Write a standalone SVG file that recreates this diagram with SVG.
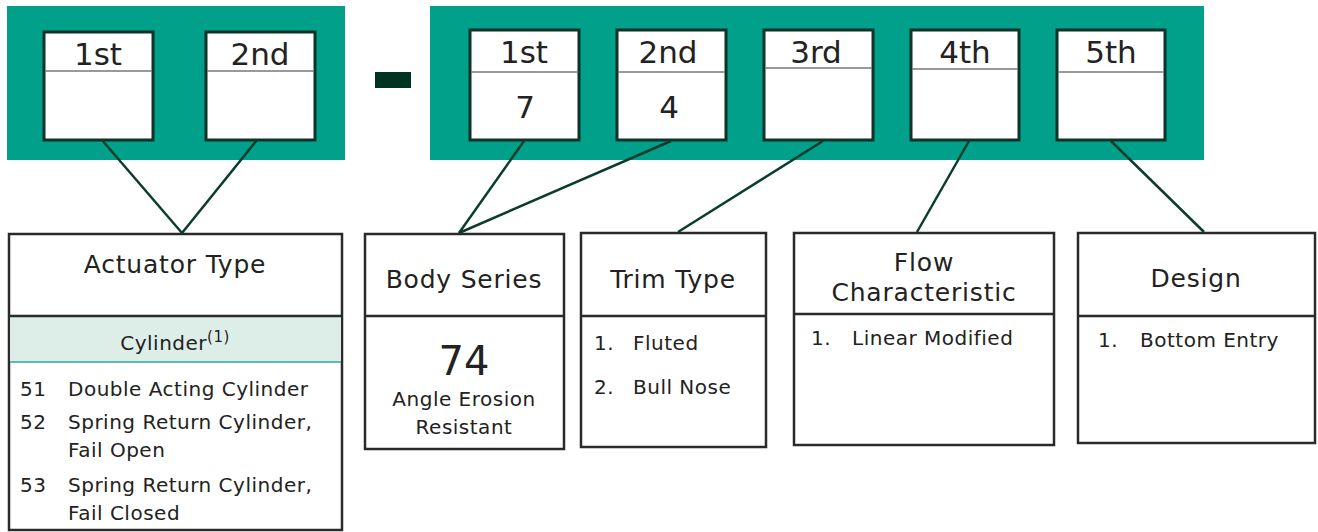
<svg xmlns="http://www.w3.org/2000/svg" width="1318" height="532" viewBox="0 0 1318 532">
<style>
.panel{fill:#00A08B}
.slot{fill:#fff;stroke:#0f3328;stroke-width:3}
.sdiv{stroke:#777;stroke-width:1.5}
.t{font-family:"DejaVu Sans","Open Sans",sans-serif;fill:#222}
.slt{font-size:31px;text-anchor:middle}
.hd{font-size:25px;text-anchor:middle;letter-spacing:0.8px}
.it{font-size:20px;letter-spacing:0.5px}
.box{fill:#fff;stroke:#2a2a2a;stroke-width:2.5}
.conn line{stroke:#0b3d2c;stroke-width:2.5}
</style>
<g id="left-panel">
<rect class="panel" x="7" y="6" width="338" height="154"/>
<g id="slot-a1"><rect class="slot" x="44" y="32" width="109" height="108"/><line class="sdiv" x1="45" y1="71" x2="152" y2="71"/><text class="t slt" x="98" y="65">1st</text></g>
<g id="slot-a2"><rect class="slot" x="206" y="32" width="109" height="108"/><line class="sdiv" x1="207" y1="71" x2="314" y2="71"/><text class="t slt" x="260" y="65">2nd</text></g>
</g>
<rect id="dash" x="375" y="72" width="36" height="16" fill="#003322"/>
<g id="right-panel">
<rect class="panel" x="430" y="6" width="774" height="154"/>
<g id="slot-b1"><rect class="slot" x="470" y="30" width="109" height="110"/><line class="sdiv" x1="471" y1="72" x2="578" y2="72"/><text class="t slt" x="524" y="63">1st</text><text class="t slt" x="525" y="118">7</text></g>
<g id="slot-b2"><rect class="slot" x="617" y="30" width="109" height="110"/><line class="sdiv" x1="618" y1="72" x2="725" y2="72"/><text class="t slt" x="668" y="63">2nd</text><text class="t slt" x="669" y="118">4</text></g>
<g id="slot-b3"><rect class="slot" x="764" y="30" width="109" height="110"/><line class="sdiv" x1="765" y1="68" x2="872" y2="68"/><text class="t slt" x="816" y="63">3rd</text></g>
<g id="slot-b4"><rect class="slot" x="911" y="30" width="108" height="110"/><line class="sdiv" x1="912" y1="69" x2="1018" y2="69"/><text class="t slt" x="965" y="63">4th</text></g>
<g id="slot-b5"><rect class="slot" x="1057" y="30" width="108" height="110"/><line class="sdiv" x1="1058" y1="72" x2="1164" y2="72" stroke="#222"/><text class="t slt" x="1111" y="63">5th</text></g>
</g>
<g id="connectors" class="conn">
<line x1="102" y1="140" x2="182" y2="233"/>
<line x1="257" y1="140" x2="182" y2="233"/>
<line x1="524" y1="141" x2="459" y2="233"/>
<line x1="671" y1="141" x2="459" y2="233"/>
<line x1="823" y1="141" x2="678" y2="232"/>
<line x1="969" y1="141" x2="917" y2="232"/>
<line x1="1111" y1="141" x2="1204" y2="232"/>
</g>
<g id="actuator-type">
<rect class="box" x="9" y="234" width="333" height="296"/>
<rect x="10" y="317" width="331" height="45" fill="#DDEEE8"/>
<line x1="9" y1="316" x2="342" y2="316" stroke="#2a2a2a" stroke-width="2.5"/>
<line x1="10" y1="362" x2="341" y2="362" stroke="#2BA898" stroke-width="1.5"/>
<text class="t hd" x="175" y="273">Actuator Type</text>
<text class="t it" x="175" y="350" text-anchor="middle">Cylinder<tspan font-size="15" dy="-8">(1)</tspan></text>
<text class="t it" x="20" y="396">51</text><text class="t it" x="68" y="396">Double Acting Cylinder</text>
<text class="t it" x="20" y="429">52</text><text class="t it" x="68" y="429">Spring Return Cylinder,</text>
<text class="t it" x="68" y="457">Fail Open</text>
<text class="t it" x="20" y="492">53</text><text class="t it" x="68" y="492">Spring Return Cylinder,</text>
<text class="t it" x="68" y="520">Fail Closed</text>
</g>
<g id="body-series">
<rect class="box" x="365" y="234" width="199" height="215"/>
<line x1="365" y1="316" x2="564" y2="316" stroke="#2a2a2a" stroke-width="2.5"/>
<text class="t hd" x="464" y="288">Body Series</text>
<text class="t" x="464" y="375" font-size="40" text-anchor="middle">74</text>
<text class="t it" x="464" y="406" text-anchor="middle">Angle Erosion</text>
<text class="t it" x="464" y="434" text-anchor="middle">Resistant</text>
</g>
<g id="trim-type">
<rect class="box" x="581" y="233" width="185" height="214"/>
<line x1="581" y1="316" x2="766" y2="316" stroke="#2a2a2a" stroke-width="2.5"/>
<text class="t hd" x="673" y="288">Trim Type</text>
<text class="t it" x="594" y="350">1.</text><text class="t it" x="633" y="350">Fluted</text>
<text class="t it" x="594" y="394">2.</text><text class="t it" x="633" y="394">Bull Nose</text>
</g>
<g id="flow-characteristic">
<rect class="box" x="794" y="233" width="260" height="212"/>
<line x1="794" y1="314" x2="1054" y2="314" stroke="#2a2a2a" stroke-width="2.5"/>
<text class="t hd" x="924" y="271">Flow</text>
<text class="t hd" x="924" y="301">Characteristic</text>
<text class="t it" x="811" y="345">1.</text><text class="t it" x="852" y="345">Linear Modified</text>
</g>
<g id="design">
<rect class="box" x="1078" y="233" width="237" height="210"/>
<line x1="1078" y1="316" x2="1315" y2="316" stroke="#2a2a2a" stroke-width="2.5"/>
<text class="t hd" x="1196" y="287">Design</text>
<text class="t it" x="1098" y="347">1.</text><text class="t it" x="1140" y="347">Bottom Entry</text>
</g>
</svg>
